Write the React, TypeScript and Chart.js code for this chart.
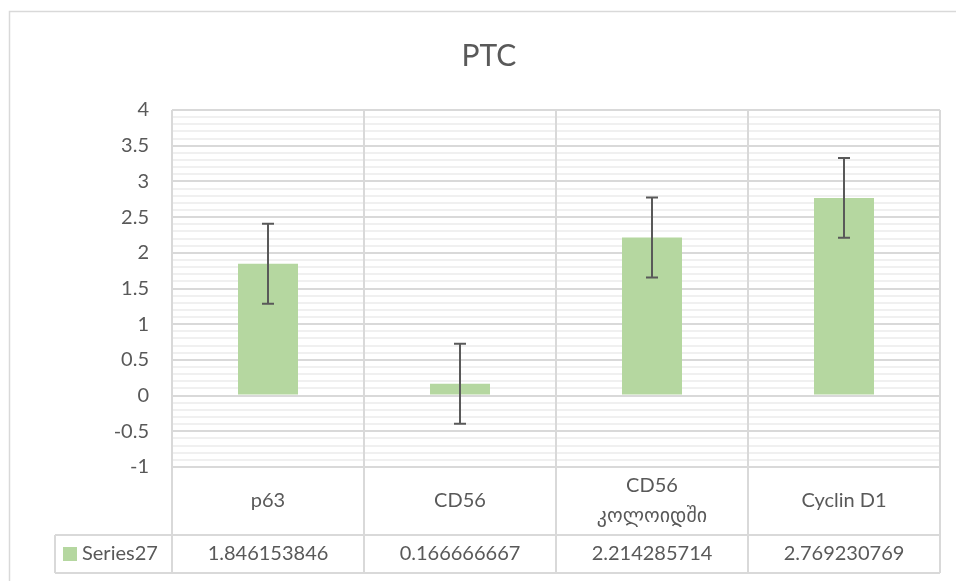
import React, { useEffect, useRef } from 'react';
import { Chart, registerables } from 'chart.js';

Chart.register(...registerables);

// ---- data ----
const TITLE = 'PTC';
const SERIES_NAME = 'Series27';
const CATEGORIES: string[][] = [['p63'], ['CD56'], ['CD56', 'კოლოიდში'], ['Cyclin D1']];
const VALUES: number[] = [1.846153846, 0.166666667, 2.214285714, 2.769230769];
const VALUE_LABELS: string[] = ['1.846153846', '0.166666667', '2.214285714', '2.769230769'];
const ERRORS: number[] = [0.56, 0.56, 0.56, 0.56];
const Y_MIN = -1;
const Y_MAX = 4;
const MAJOR_STEP = 0.5;
const MINOR_STEP = 0.1;

// ---- styles ----
const FONT = 'Lato, "DejaVu Sans", sans-serif';
const TEXT = '#595959';
const LINE = '#d9d9d9';
const MINOR_LINE = '#f0f0f0';
const BAR = '#b5d7a0';
const ERR = '#595959';
const ROW1 = 68;
const ROW2 = 38;
const TABLE_LEFT = 55;

const isMajor = (v: number) => Math.abs(v / MAJOR_STEP - Math.round(v / MAJOR_STEP)) < 1e-6;

const decor = {
  id: 'excelDecor',
  beforeDraw(chart: any) {
    const { ctx, width, height } = chart;
    ctx.save();
    ctx.fillStyle = '#ffffff';
    ctx.fillRect(0, 0, width, height);
    // outer chart border
    ctx.strokeStyle = LINE;
    ctx.lineWidth = 1.5;
    ctx.beginPath();
    ctx.moveTo(9.5, height + 2);
    ctx.lineTo(9.5, 11.5);
    ctx.lineTo(width + 2, 11.5);
    ctx.stroke();
    // title
    ctx.fillStyle = TEXT;
    ctx.font = `30px ${FONT}`;
    ctx.textAlign = 'center';
    ctx.textBaseline = 'middle';
    ctx.fillText(TITLE, 489, 56);
    ctx.restore();
  },
  beforeDatasetsDraw(chart: any) {
    const { ctx, chartArea: a } = chart;
    const xs = chart.scales.x;
    const n = CATEGORIES.length;
    const cw = (a.right - a.left) / n;
    const y1 = a.bottom + ROW1;
    const y2 = y1 + ROW2;
    ctx.save();
    ctx.strokeStyle = LINE;
    ctx.lineWidth = 2;
    for (let i = 0; i <= n; i++) {
      const x = Math.round(i < n ? xs.getPixelForValue(i) - cw / 2 : xs.getPixelForValue(n - 1) + cw / 2);
      ctx.beginPath();
      ctx.moveTo(x, a.top);
      ctx.lineTo(x, y2);
      ctx.stroke();
    }
    // table rows
    ctx.beginPath();
    ctx.moveTo(TABLE_LEFT, y1);
    ctx.lineTo(a.right, y1);
    ctx.moveTo(TABLE_LEFT, y2);
    ctx.lineTo(a.right, y2);
    ctx.moveTo(TABLE_LEFT, y1);
    ctx.lineTo(TABLE_LEFT, y2);
    ctx.stroke();

    // category labels
    ctx.fillStyle = TEXT;
    ctx.font = `20px ${FONT}`;
    ctx.textAlign = 'center';
    ctx.textBaseline = 'middle';
    const lh = 30;
    CATEGORIES.forEach((lines, i) => {
      const cx = xs.getPixelForValue(i);
      const cy = a.bottom + ROW1 / 2;
      const start = cy - ((lines.length - 1) * lh) / 2;
      lines.forEach((t, j) => ctx.fillText(t, cx, start + j * lh));
      ctx.fillText(VALUE_LABELS[i], cx, y1 + ROW2 / 2);
    });
    // legend key
    ctx.fillStyle = BAR;
    ctx.fillRect(63, y1 + 12, 14, 14);
    ctx.fillStyle = TEXT;
    ctx.textAlign = 'left';
    ctx.fillText(SERIES_NAME, 82, y1 + ROW2 / 2);
    ctx.restore();
  },
  afterDatasetsDraw(chart: any) {
    const { ctx } = chart;
    const xs = chart.scales.x;
    const ys = chart.scales.y;
    ctx.save();
    ctx.strokeStyle = ERR;
    ctx.lineWidth = 2;
    VALUES.forEach((v, i) => {
      const x = Math.round(xs.getPixelForValue(i));
      const top = ys.getPixelForValue(v + ERRORS[i]);
      const bot = ys.getPixelForValue(v - ERRORS[i]);
      ctx.beginPath();
      ctx.moveTo(x, top);
      ctx.lineTo(x, bot);
      ctx.moveTo(x - 6, top);
      ctx.lineTo(x + 6, top);
      ctx.moveTo(x - 6, bot);
      ctx.lineTo(x + 6, bot);
      ctx.stroke();
    });
    ctx.restore();
  },
};

export default function App() {
  const ref = useRef<HTMLCanvasElement | null>(null);
  useEffect(() => {
    if (!ref.current) return;
    const chart = new Chart(ref.current, {
      type: 'bar',
      data: {
        labels: CATEGORIES.map((c) => c.join(' ')),
        datasets: [
          {
            label: SERIES_NAME,
            data: VALUES,
            backgroundColor: BAR,
            borderWidth: 0,
            categoryPercentage: 1,
            barPercentage: 0.3125,
          },
        ],
      },
      options: {
        animation: false,
        responsive: false,
        maintainAspectRatio: false,
        layout: { padding: { left: 0, top: 110, right: 16, bottom: 114 } },
        plugins: {
          legend: { display: false },
          title: { display: false },
          tooltip: { enabled: false },
        },
        scales: {
          x: { display: false, offset: true },
          y: {
            min: Y_MIN,
            max: Y_MAX,
            afterFit: (scale: any) => {
              scale.width = 172;
            },
            border: { display: false },
            grid: {
              drawTicks: false,
              color: (c: any) => (isMajor(c.tick.value) ? LINE : MINOR_LINE),
              lineWidth: (c: any) => 2,
            },
            ticks: {
              stepSize: MINOR_STEP,
              maxTicksLimit: 100,
              autoSkip: false,
              padding: 23,
              color: TEXT,
              font: { family: FONT, size: 20 },
              callback: (v: any) => (isMajor(Number(v)) ? String(Math.round(Number(v) * 10) / 10) : ''),
            },
          },
        },
      },
      plugins: [decor],
    });
    return () => chart.destroy();
  }, []);
  return (
    <div style={{ position: 'fixed', left: 0, top: 0, width: 956, height: 581, background: '#fff' }}>
      <canvas ref={ref} width={956} height={581} />
    </div>
  );
}
